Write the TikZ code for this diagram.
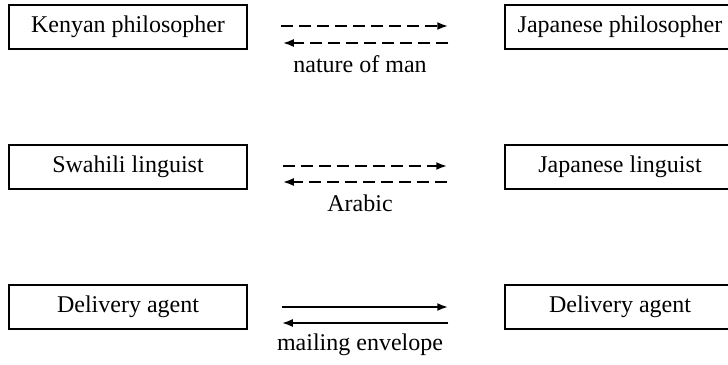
\documentclass[tikz,border=0pt]{standalone}
\usepackage{fontspec}
\setmainfont{Liberation Serif}
\usetikzlibrary{arrows.meta,positioning}

\begin{document}
\begin{tikzpicture}[x=1pt,y=1pt,
  box/.style={draw, line width=1.5pt, minimum width=238pt, minimum height=44pt, inner sep=0pt, font=\fontsize{24}{28}\selectfont},
  rbox/.style={box, minimum width=230pt},
  link/.style={line width=2pt, -{Latex[length=11pt,width=8pt]}},
  dlink/.style={link, dash pattern=on 12pt off 6pt},
  lbl/.style={font=\fontsize{24}{28}\selectfont, inner sep=0pt}]
\useasboundingbox (0,0) rectangle (728,-364);
% left column
\node[box] (kenyan) at (128,-27) {Kenyan philosopher};
\node[box] (swahili) at (128,-167) {Swahili linguist};
\node[box] (agentl) at (128,-307) {Delivery agent};
% right column
\node[rbox] (japphil) at (620,-27) {Japanese philosopher};
\node[rbox] (japling) at (620,-167) {Japanese linguist};
\node[rbox] (agentr) at (620,-307) {Delivery agent};
% exchanges
\draw[dlink, shorten <=33pt, shorten >=56pt] ([yshift=1pt]kenyan.east) -- ([yshift=1pt]japphil.west);
\draw[dlink, shorten <=56pt, shorten >=35pt] ([yshift=-16pt]japphil.west) -- ([yshift=-16pt]kenyan.east);
\draw[dlink, shorten <=35pt, shorten >=57pt] ([yshift=1pt]swahili.east) -- ([yshift=1pt]japling.west);
\draw[dlink, shorten <=57pt, shorten >=35pt] ([yshift=-15pt]japling.west) -- ([yshift=-15pt]swahili.east);
\draw[link, shorten <=34pt, shorten >=56pt] ([yshift=0pt]agentl.east) -- ([yshift=0pt]agentr.west);
\draw[link, shorten <=56pt, shorten >=34pt] ([yshift=-16pt]agentr.west) -- ([yshift=-16pt]agentl.east);
% labels
\node[lbl] (nature) at (360,-64) {nature of man};
\node[lbl] (arabic) at (360,-203) {Arabic};
\node[lbl] (envelope) at (360,-345) {mailing envelope};
\end{tikzpicture}
\end{document}
